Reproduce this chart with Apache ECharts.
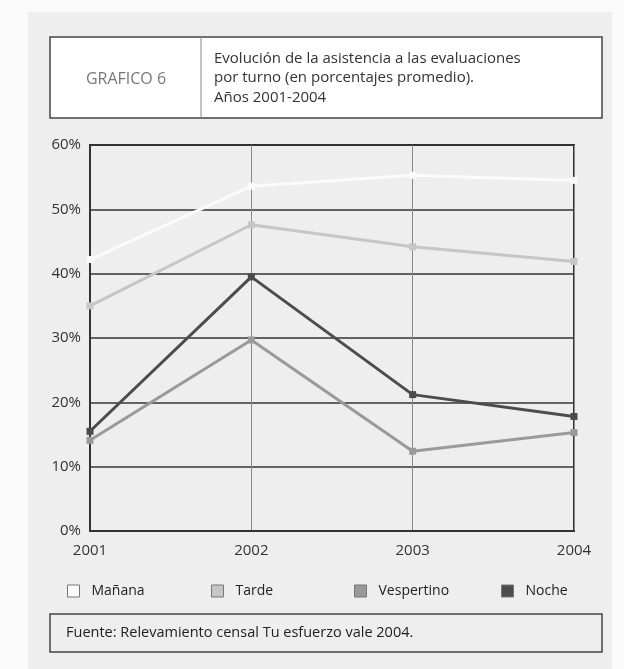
<!DOCTYPE html>
<html>
<head>
<meta charset="utf-8">
<script src="https://cdn.jsdelivr.net/npm/echarts@6/dist/echarts.min.js"></script>
<style>
html,body{margin:0;padding:0;background:#fafafa;}
#chart{width:624px;height:669px;}
</style>
</head>
<body>
<div id="chart"></div>
<script>
const years = ['2001', '2002', '2003', '2004'];
const seriesNames = ['Mañana', 'Tarde', 'Vespertino', 'Noche'];
const manana = [42.2, 53.6, 55.3, 54.5];
const tarde = [35.0, 47.6, 44.2, 41.9];
const vespertino = [14.1, 29.7, 12.4, 15.3];
const noche = [15.5, 39.5, 21.2, 17.8];
const yTicks = [0, 10, 20, 30, 40, 50, 60];
const titleLabel = 'GRAFICO 6';
const titleLines = ['Evolución de la asistencia a las evaluaciones', 'por turno (en porcentajes promedio).', 'Años 2001-2004'];
const sourceText = 'Fuente: Relevamiento censal Tu esfuerzo vale 2004.';

const colors = ['#fbfbfb', '#c6c6c6', '#9a9a9a', '#4c4c4c'];
const seriesData = [manana, tarde, vespertino, noche];
const FONT = '"Open Sans", "Noto Sans", sans-serif';

const chart = echarts.init(document.getElementById('chart'), null, {renderer: 'canvas'});

const legendLefts = [62, 206, 349, 496];

const option = {
  backgroundColor: '#fafafa',
  animation: false,
  textStyle: {fontFamily: FONT},
  graphic: [
    {type: 'rect', z: -10, shape: {x: 28, y: 12, width: 584, height: 660}, style: {fill: '#eeeeee'}},
    {type: 'rect', shape: {x: 50, y: 37, width: 552, height: 81}, style: {fill: '#ffffff', stroke: '#444', lineWidth: 1.5}},
    {type: 'line', shape: {x1: 201, y1: 37, x2: 201, y2: 118}, style: {stroke: '#888', lineWidth: 1}},
    {type: 'text', style: {text: titleLabel, x: 126, y: 79, align: 'center', verticalAlign: 'middle', fill: '#777', font: '500 16px ' + FONT}},
    {type: 'text', style: {text: titleLines.join('\n'), x: 214, y: 78, verticalAlign: 'middle', lineHeight: 19.5, fill: '#333', font: '15px ' + FONT}},
    {type: 'rect', shape: {x: 50, y: 614, width: 552, height: 38}, style: {fill: 'none', stroke: '#444', lineWidth: 1.5}},
    {type: 'text', style: {text: sourceText, x: 66, y: 633, verticalAlign: 'middle', fill: '#222', font: '14.5px ' + FONT}}
  ],
  legend: seriesNames.map((n, i) => ({
    data: [{name: n, icon: 'rect'}],
    left: legendLefts[i],
    top: 579,
    itemWidth: 12,
    itemHeight: 12,
    itemStyle: {borderColor: '#777', borderWidth: 1},
    textStyle: {fontFamily: FONT, fontSize: 14, color: '#222', padding: [0, 0, 0, 7]},
    selectedMode: false
  })),
  grid: {left: 90, right: 50, top: 145, bottom: 138, show: true, borderColor: '#333', borderWidth: 2, backgroundColor: 'transparent'},
  xAxis: {
    type: 'category',
    data: years,
    boundaryGap: false,
    axisLine: {lineStyle: {color: '#333', width: 2}},
    axisTick: {show: false},
    axisLabel: {color: '#333', fontSize: 15, fontFamily: FONT, margin: 12},
    splitLine: {show: true, lineStyle: {color: '#888', width: 1}}
  },
  yAxis: {
    type: 'value',
    min: yTicks[0],
    max: yTicks[yTicks.length - 1],
    interval: 10,
    axisLine: {show: true, lineStyle: {color: '#333', width: 2}},
    axisTick: {show: false},
    axisLabel: {color: '#333', fontSize: 15, fontFamily: FONT, margin: 9, formatter: '{value}%'},
    splitLine: {show: true, lineStyle: {color: '#333', width: 1.5}}
  },
  series: seriesNames.map((n, i) => ({
    name: n,
    type: 'line',
    data: seriesData[i],
    symbol: 'rect',
    symbolSize: 7,
    color: colors[i],
    lineStyle: {color: colors[i], width: 3},
    itemStyle: {color: colors[i]},
    z: 3 + i
  }))
};
chart.setOption(option);
</script>
</body>
</html>
